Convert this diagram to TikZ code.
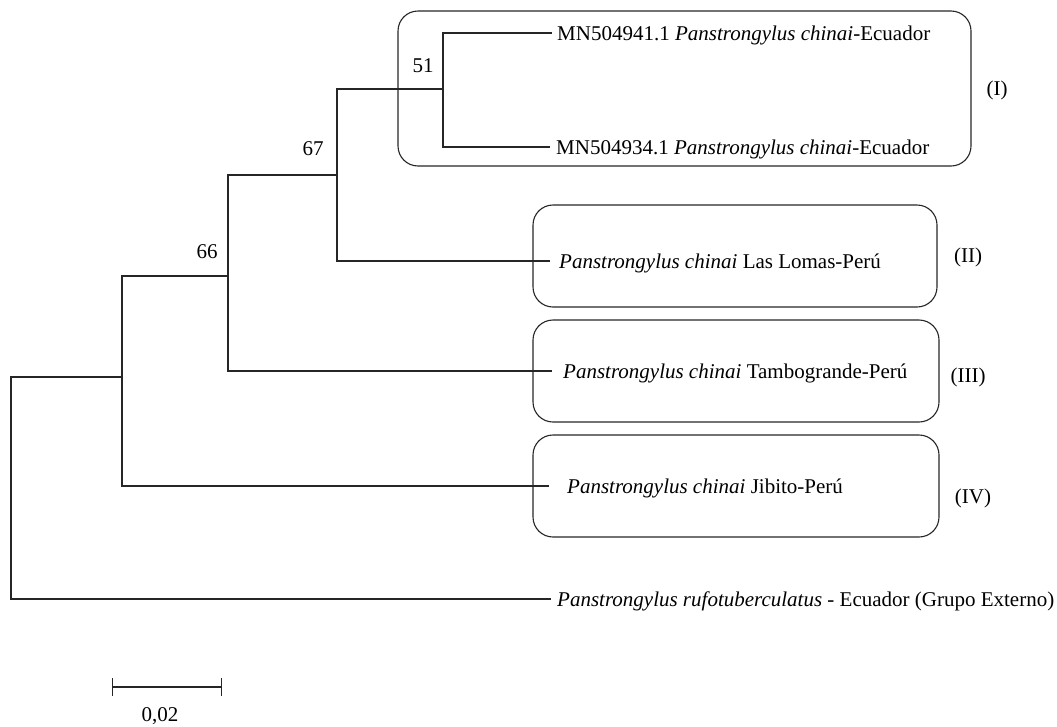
\documentclass[tikz,border=0pt]{standalone}
\usepackage{fontspec}
\setmainfont{Liberation Serif}
\usetikzlibrary{arrows.meta}
\tikzset{
	branch/.style={line width=1.1pt, color=black!85},
	cladebox/.style={line width=1.1pt, color=black!85, rounded corners=20pt},
	taxon/.style={anchor=west, inner xsep=6pt, inner ysep=0pt, text height=18pt, text depth=4pt, font=\fontsize{21}{24}\selectfont},
	support/.style={inner sep=0pt, font=\fontsize{21}{24}\selectfont},
}

\begin{document}
\begin{tikzpicture}[x=1pt, y=-1pt]
		%%%%% START %%%%%
		\useasboundingbox (0,0) rectangle (1057,726);
		
		% clade boxes
		\draw[cladebox] (398,11) rectangle (971,166);
		\draw[cladebox] (533,205) rectangle (937,307);
		\draw[cladebox] (533,320) rectangle (939,422);
		\draw[cladebox] (533,435) rectangle (939,537);
		
		% internal nodes
		\coordinate (root) at (11,488);
		\coordinate (n1) at (122,377);
		\coordinate (n2) at (228,276);
		\coordinate (n3) at (337,175);
		\coordinate (n4) at (443,89);
		
		% leaves
		\node[taxon, inner xsep=5pt] (t1) at (552,33) {MN504941.1 \textit{Panstrongylus chinai}-Ecuador};
		\node[taxon] (t2) at (550,147) {MN504934.1 \textit{Panstrongylus chinai}-Ecuador};
		\node[taxon, inner xsep=9pt] (t3) at (550,261) {\textit{Panstrongylus chinai} Las Lomas-Perú};
		\node[taxon, inner xsep=11pt] (t4) at (552,371) {\textit{Panstrongylus chinai} Tambogrande-Perú};
		\node[taxon, inner xsep=18pt] (t5) at (549,486) {\textit{Panstrongylus chinai} Jibito-Perú};
		\node[taxon] (t6) at (551,599) {\textit{Panstrongylus rufotuberculatus} - Ecuador (Grupo Externo)};
		
		\draw[branch] (n4) |- (t1.west);
		\draw[branch] (n4) |- (t2.west);
		\draw[branch] (n3) |- (n4);
		\draw[branch] (n3) |- (t3.west);
		\draw[branch] (n2) |- (n3);
		\draw[branch] (n2) |- (t4.west);
		\draw[branch] (n1) |- (n2);
		\draw[branch] (n1) |- (t5.west);
		\draw[branch] (root) |- (n1);
		\draw[branch] (root) |- (t6.west);
		
		% bootstrap values
		\node[support] (b51) at (423,66) {51};
		\node[support] (b67) at (313,149) {67};
		\node[support] (b66) at (207,252) {66};
		
		% group labels
		\node[support] (gI) at (997,90) {(I)};
		\node[support] (gII) at (968,257) {(II)};
		\node[support] (gIII) at (968,377) {(III)};
		\node[support] (gIV) at (973,498) {(IV)};
		
		% scale bar
		\coordinate (sb1) at (112,687);
		\coordinate (sb2) at (222,687);
		\draw[branch, {Bar[width=18pt]}-{Bar[width=18pt]}] (sb1) -- (sb2);
		\node[support] (sbl) at (160,716) {0,02};
		
		%%%%% END %%%%%
	\end{tikzpicture}
\end{document}
